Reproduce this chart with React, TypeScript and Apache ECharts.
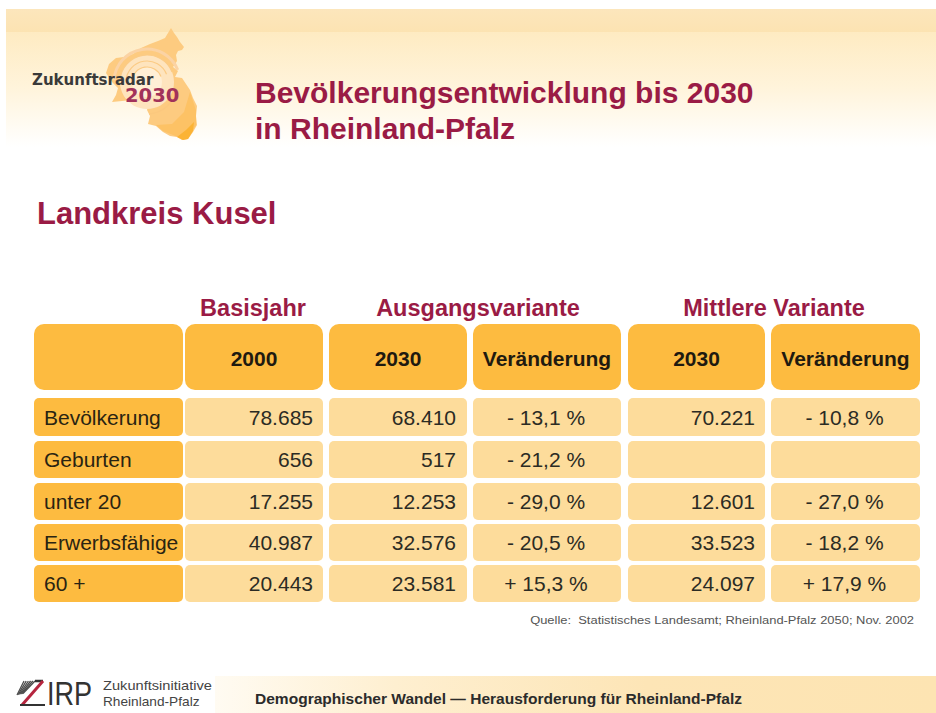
import React, { useEffect, useRef } from "react";
import * as echarts from "echarts";

const categories = ["Bevölkerung", "Geburten", "unter 20", "Erwerbsfähige", "60 +"];
const basis2000 = ["78.685", "656", "17.255", "40.987", "20.443"];
const ausgang2030 = ["68.410", "517", "12.253", "32.576", "23.581"];
const ausgangChange = ["- 13,1 %", "- 21,2 %", "- 29,0 %", "- 20,5 %", "+ 15,3 %"];
const mittel2030 = ["70.221", "", "12.601", "33.523", "24.097"];
const mittelChange = ["- 10,8 %", "", "- 27,0 %", "- 18,2 %", "+ 17,9 %"];
const headers = ["", "2000", "2030", "Veränderung", "2030", "Veränderung"];
const groups = ["Basisjahr", "Ausgangsvariante", "Mittlere Variante"];

const FONT = "'Liberation Sans', Arial, sans-serif";
const WIDE = "'DejaVu Sans', Verdana, sans-serif";
const RED = "#9A1B45";
const ORANGE = "#FDBB40";
const LIGHT = "#FDDC9B";
const INK = "#2b2b24";

const colX = [[34, 183], [185, 323], [329, 467], [473, 621], [628, 765], [771, 920]];
const rowY = [[398, 436], [441, 478], [483, 520], [524, 561], [565, 602]];
const groupX = [253, 478, 774];

const mapPath =
  "M171 28 L174 33 L177 37 L180 42 L184 47 L182 50 L178 51 L176 55 L177 61 L173 67 L178 71 L175 77 L182 78 L186 84 L190 90 L193 98 L197 106 L196 116 L197 125 L193 132 L188 139 L182 140 L177 137 L170 136 L163 132 L156 126 L148 124 L150 116 L147 110 L149 102 L132 100 L112 102 L116 95 L118 88 L112 82 L106 73 L109 64 L116 58 L124 57 L133 54 L141 48 L150 44 L158 41 L165 38 L168 33 Z";
echarts.graphic.registerShape("rlpMap", echarts.graphic.extendPath(mapPath, {}) as any);
const bandPath = "M190 92 L196 110 L196 125 L188 138 L178 137 L163 131 L156 125 L172 124 L184 112 Z";
echarts.graphic.registerShape("rlpBand", echarts.graphic.extendPath(bandPath, {}) as any);
const tipPath = "M177 137 L183 140 L188 139 L193 131 L194 122 L186 130 Z";
echarts.graphic.registerShape("rlpTip", echarts.graphic.extendPath(tipPath, {}) as any);

function txt(text: string, x: number, y: number, size: number, fill: string, bold = false, align = "left", extra: any = {}, family = FONT) {
  return {
    type: "text",
    x,
    y,
    ...extra,
    style: { text, fill, align, verticalAlign: "middle", font: `${bold ? "bold " : ""}${size}px ${family}` },
  };
}
function box(x0: number, y0: number, x1: number, y1: number, fill: string, r: number) {
  return { type: "rect", shape: { x: x0, y: y0, width: x1 - x0, height: y1 - y0, r }, style: { fill } };
}
function vGrad(stops: [number, string][]) {
  return new echarts.graphic.LinearGradient(0, 0, 0, 1, stops.map(([offset, color]) => ({ offset, color })));
}

function buildGraphic() {
  const els: any[] = [];
  // header banner
  els.push({ type: "rect", shape: { x: 6, y: 9, width: 930, height: 23 }, style: { fill: vGrad([[0, "#FCE6BC"], [1, "#FCE3B2"]]) } });
  els.push({ type: "rect", shape: { x: 6, y: 32, width: 930, height: 115 }, style: { fill: vGrad([[0, "#FEEBC2"], [0.5, "#FFF4DC"], [0.85, "#FFFCF5"], [1, "#FFFFFF"]]) } });
  // map logo
  els.push({ type: "rlpMap", style: { fill: "#FDCB80" } });
  els.push({ type: "rlpBand", style: { fill: "#FDC265" } });
  els.push({ type: "rlpTip", style: { fill: "#FBB335" } });
  els.push({ type: "circle", shape: { cx: 147, cy: 82, r: 27 }, style: { fill: "#FEE4BE" } });
  els.push({ type: "circle", shape: { cx: 147, cy: 82, r: 15 }, style: { fill: "#FFEFD6" } });
  [33, 27, 21, 15].forEach((r, i) =>
    els.push({
      type: "arc",
      shape: { cx: 147, cy: 82, r, startAngle: -Math.PI * 0.98, endAngle: -Math.PI * 0.12, clockwise: true },
      style: { stroke: i === 0 ? "#FBD3A4" : "#FBCB85", lineWidth: i === 0 ? 3 : 1.2, fill: "none" },
    })
  );
  els.push({
    type: "arc",
    shape: { cx: 147, cy: 84, r: 30, startAngle: 0.15, endAngle: 1.5, clockwise: true },
    style: { stroke: "#FBC87E", lineWidth: 1.5, fill: "none" },
  });
  els.push(txt("Zukunftsradar", 32, 80, 15, "#3a3a3a", true, "left", {}, WIDE));
  els.push(txt("2030", 125, 95, 19.5, "#A2325A", true, "left", {}, WIDE));
  // titles
  els.push(txt("Bevölkerungsentwicklung bis 2030", 255, 92, 30, RED, true));
  els.push(txt("in Rheinland-Pfalz", 255, 128, 30, RED, true));
  els.push(txt("Landkreis Kusel", 37, 213, 31, RED, true));
  groups.forEach((g, i) => els.push(txt(g, groupX[i], 308, 23.5, RED, true, "center")));
  // header row
  headers.forEach((h, i) => {
    const [a, b] = colX[i];
    els.push(box(a, 324, b, 390, ORANGE, 10));
    if (h) els.push(txt(h, (a + b) / 2, 358, 21, "#1f1a10", true, "center"));
  });
  // body rows
  const right = [313, 456, 0, 755];
  categories.forEach((c, r) => {
    const [y0, y1] = rowY[r];
    const cy = (y0 + y1) / 2;
    els.push(box(colX[0][0], y0, colX[0][1], y1, ORANGE, 5));
    els.push(txt(c, 44, cy, 21, "#2a2412", false));
    [basis2000, ausgang2030, ausgangChange, mittel2030, mittelChange].forEach((col, k) => {
      const [a, b] = colX[k + 1];
      els.push(box(a, y0, b, y1, LIGHT, 5));
      if (!col[r]) return;
      if (k === 2 || k === 4) els.push(txt(col[r], (a + b) / 2 - 1, cy, 21, INK, false, "center"));
      else els.push(txt(col[r], right[k === 3 ? 3 : k], cy, 21, INK, false, "right"));
    });
  });
  els.push(txt("Quelle:  Statistisches Landesamt; Rheinland-Pfalz 2050; Nov. 2002", 914, 620, 11.5, "#555555", false, "right", { scaleX: 1.125 }));
  // footer
  els.push({
    type: "rect",
    shape: { x: 215, y: 676, width: 721, height: 37 },
    style: { fill: new echarts.graphic.LinearGradient(0, 0, 1, 0, [
      { offset: 0, color: "#FFFBF2" },
      { offset: 0.25, color: "#FEEFD0" },
      { offset: 0.6, color: "#FDE5B6" },
      { offset: 1, color: "#FDE4B2" },
    ]) },
  });
  els.push(txt("Demographischer Wandel — Herausforderung für Rheinland-Pfalz", 255, 699, 14, "#2b2b2b", true, "left", { scaleX: 1.11 }));
  // ZIRP logo
  for (let i = 0; i < 6; i++) {
    els.push({ type: "line", shape: { x1: 17 + i * 1.2, y1: 695 - i * 0.3, x2: 24 + i * 2.2, y2: 681 }, style: { stroke: "#4a4a4a", lineWidth: 1.3 } });
  }
  els.push({ type: "line", shape: { x1: 35, y1: 681, x2: 43, y2: 681 }, style: { stroke: "#333333", lineWidth: 2.5 } });
  els.push({ type: "line", shape: { x1: 43, y1: 681, x2: 22, y2: 705 }, style: { stroke: "#B5253F", lineWidth: 3 } });
  els.push({ type: "line", shape: { x1: 20, y1: 705, x2: 45, y2: 705 }, style: { stroke: "#333333", lineWidth: 2 } });
  els.push(txt("IRP", 47, 694, 33, "#333333", false, "left", { scaleX: 0.82 }));
  els.push(txt("Zukunftsinitiative", 103, 686, 12, "#444444", false, "left", { scaleX: 1.22 }));
  els.push(txt("Rheinland-Pfalz", 103, 702, 12, "#444444", false, "left", { scaleX: 1.14 }));
  return els;
}

export default function App() {
  const ref = useRef<HTMLDivElement>(null);
  useEffect(() => {
    const chart = echarts.init(ref.current!, undefined, { renderer: "svg" });
    chart.setOption({ animation: false, backgroundColor: "#FFFFFF", graphic: { elements: buildGraphic() } });
    return () => chart.dispose();
  }, []);
  return <div ref={ref} style={{ position: "fixed", left: 0, top: 0, width: 936, height: 713 }} />;
}
